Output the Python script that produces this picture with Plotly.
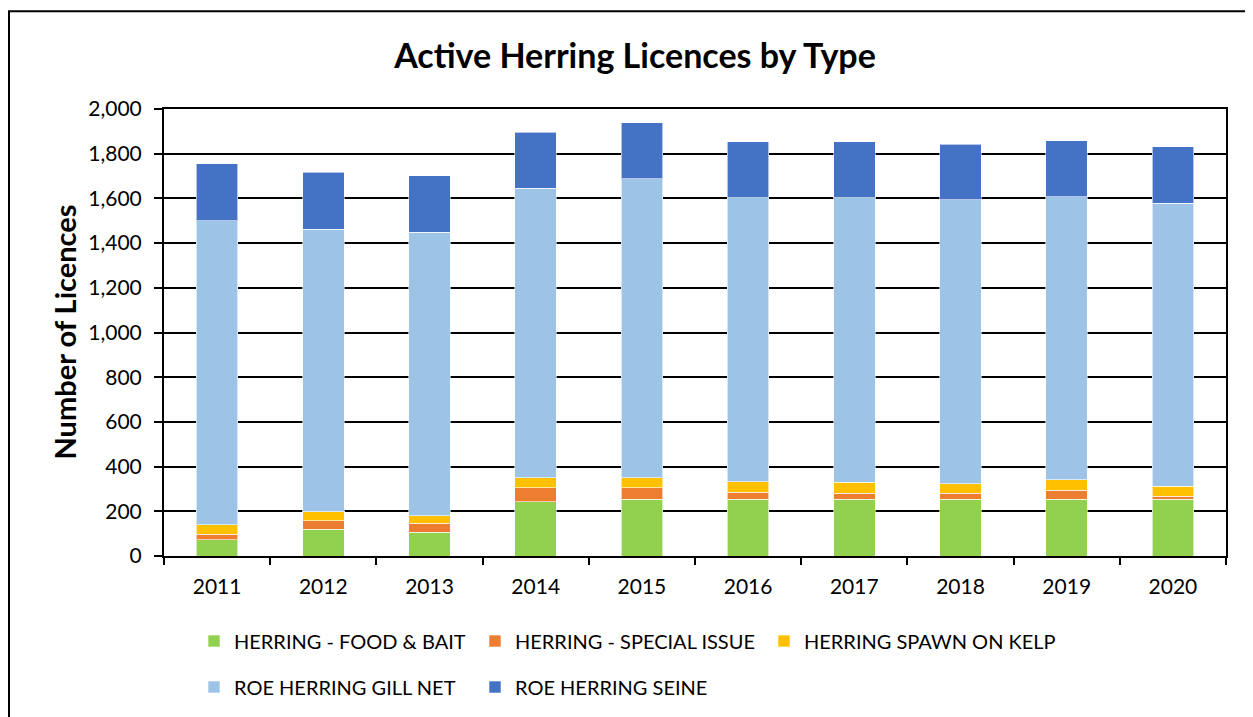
import plotly.graph_objects as go

years = ["2011", "2012", "2013", "2014", "2015", "2016", "2017", "2018", "2019", "2020"]
food_bait = [73, 119, 106, 243, 254, 255, 254, 254, 255, 255]
special_issue = [24, 39, 40, 62, 51, 30, 27, 27, 39, 12]
spawn_on_kelp = [42, 41, 33, 46, 46, 47, 48, 43, 47, 45]
gill_net = [1362, 1263, 1270, 1294, 1338, 1270, 1273, 1269, 1267, 1267]
seine = [253, 255, 252, 250, 249, 251, 251, 250, 250, 252]

series = [
    ("HERRING - FOOD & BAIT", food_bait, "#92D050"),
    ("HERRING - SPECIAL ISSUE", special_issue, "#ED7D31"),
    ("HERRING SPAWN ON KELP", spawn_on_kelp, "#FFC000"),
    ("ROE HERRING GILL NET", gill_net, "#9DC3E6"),
    ("ROE HERRING SEINE", seine, "#4472C4"),
]
legend_ids = ["legend", "legend2", "legend3", "legend4", "legend5"]
# legend marker centres (page px) for a two-row, column-aligned legend
legend_pos = [(215, 641), (496, 641), (785, 641), (215, 687), (496, 687)]

FONT = "Lato"
OFF = 8  # default page body margin
PAGE_W, PAGE_H = 1253, 717
W, H = PAGE_W - OFF, PAGE_H - OFF
L, R, T, B = 164, 1226, 109, 557  # plot area in page px
pw, ph = R - L, B - T


def px(x):
    return (x - L) / pw


def py(y):
    return (B - y) / ph


fig = go.Figure()
for (name, vals, color), lg in zip(series, legend_ids):
    fig.add_trace(go.Bar(
        x=years, y=vals, name=name, legend=lg,
        marker=dict(color=color, line=dict(color="rgba(255,255,255,0.6)", width=1)),
    ))

legends = {}
for lg, (mx, my) in zip(legend_ids, legend_pos):
    legends[lg] = dict(orientation="h", x=px(mx - 21), xanchor="left", y=py(my), yanchor="middle",
                       font=dict(family=FONT, size=20, color="black"), itemwidth=30,
                       bgcolor="rgba(0,0,0,0)")

fig.update_layout(
    width=W, height=H,
    barmode="stack", bargap=0.61,
    margin=dict(l=L - OFF, r=PAGE_W - R, t=T - OFF, b=PAGE_H - B),
    paper_bgcolor="white", plot_bgcolor="white",
    font=dict(family=FONT, size=21, color="black"),
    title=dict(text="<b>Active Herring Licences by Type</b>", x=(635 - OFF) / W, xref="container",
               xanchor="center", y=1 - (56 - OFF) / H, yanchor="middle",
               font=dict(family=FONT, size=34, color="black")),
    xaxis=dict(type="category", showline=True, linecolor="black", linewidth=2, mirror=True,
               ticks="outside", ticklen=7, tickcolor="black", tickwidth=2, tickson="boundaries",
               showgrid=False, tickfont=dict(size=21), ticklabelstandoff=11),
    yaxis=dict(range=[0, 2000], dtick=200, tickformat=",", showline=True, linecolor="black",
               linewidth=2, mirror=True, ticks="outside", ticklen=8, tickcolor="black", tickwidth=2,
               showgrid=True, gridcolor="black", gridwidth=2, zeroline=False,
               tickfont=dict(size=21), ticklabelstandoff=8),
    showlegend=True,
    **legends,
)

fig.add_annotation(text="<b>Number of Licences</b>", x=px(64), y=0.5, xref="paper", yref="paper",
                   xanchor="center", yanchor="middle",
                   textangle=-90, showarrow=False, font=dict(family=FONT, size=29, color="black"))

fig.add_shape(type="rect", xref="paper", yref="paper",
              x0=px(9), x1=px(1265), y0=py(730), y1=py(11),
              line=dict(color="black", width=2), fillcolor="rgba(0,0,0,0)", layer="below")

fig.write_html("out.html")
